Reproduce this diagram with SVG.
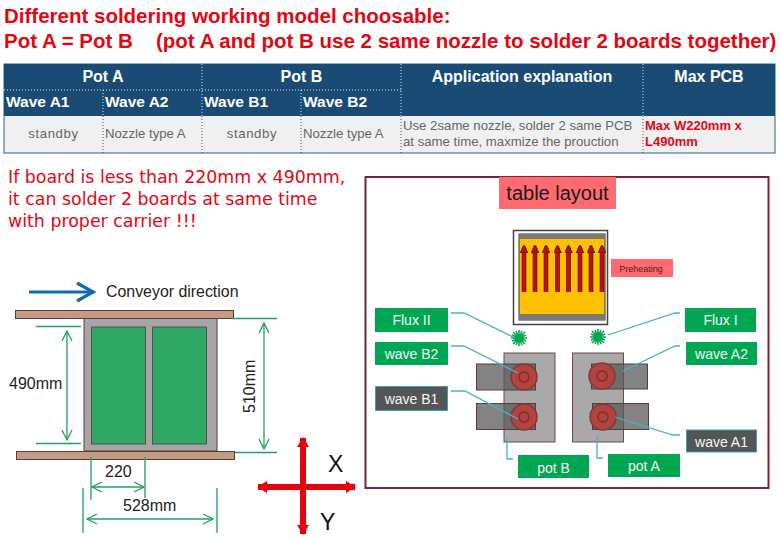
<svg xmlns="http://www.w3.org/2000/svg" width="780" height="540" viewBox="0 0 780 540">
<defs>
<marker id="g" viewBox="0 0 12 12" refX="11" refY="6" markerWidth="12" markerHeight="12" markerUnits="userSpaceOnUse" orient="auto-start-reverse"><path d="M1 1L11 6L1 11" fill="none" stroke="#1fa062" stroke-width="1.3"/></marker>
<marker id="b" viewBox="0 0 22 22" refX="20" refY="11" markerWidth="22" markerHeight="22" markerUnits="userSpaceOnUse" orient="auto"><path d="M3 2L19 11L3 20" fill="none" stroke="#0f6cb0" stroke-width="3.200"/></marker>
<marker id="r" viewBox="0 0 10 12" refX="9" refY="6" markerWidth="10" markerHeight="12" markerUnits="userSpaceOnUse" orient="auto-start-reverse"><path d="M0 0L10 6L0 12Z" fill="#e8000b"/></marker>
<marker id="u" viewBox="0 0 8 8" refX="7" refY="4" markerWidth="8" markerHeight="8" markerUnits="userSpaceOnUse" orient="auto"><path d="M0 0L8 4L0 8Z" fill="#cc0a0a" stroke="#222" stroke-width=".7"/></marker>
</defs>
<style>
text{font-family:"Liberation Sans",Arial,sans-serif}
.ti{font-size:20.5px;font-weight:700;fill:#e30613}
.th{font-size:16px;font-weight:700;fill:#fff}
.tw{font-size:15.5px;font-weight:700;fill:#fff}
.tc{font-size:13.2px;fill:#666}
.ts{font-size:13.2px;fill:#666;letter-spacing:.6px}
.tr{font-size:13px;font-weight:700;fill:#e30613}
.dv{stroke:#dfe8ee;stroke-width:1;stroke-dasharray:1 2;fill:none}
.dk{stroke:#44505a;stroke-width:1;stroke-dasharray:1 2;fill:none}
.note{font-family:"DejaVu Sans",sans-serif;font-size:17.4px;fill:#e30613}
.dim{font-size:16px;fill:#222}
.gl{stroke:#1fa062;stroke-width:1.3;fill:none}
.ga{stroke:#1fa062;stroke-width:1.3;fill:none;marker-start:url(#g);marker-end:url(#g)}
.rail{fill:#c39a85;stroke:#5e3a30;stroke-width:1}
.lab{font-size:14px;fill:#f2f8f5;text-anchor:middle}
.gb{fill:#00a651}
.db{fill:#555;stroke:#3aa0bb;stroke-width:1}
.ld{stroke:#45b3cd;stroke-width:1.3;fill:none}
.pot{fill:#a9a9a9;stroke:#6b4a4a;stroke-width:1}
.noz{fill:#5a5a5a;fill-opacity:.75;stroke:#5b3a3a;stroke-width:1}
.c1{fill:#b5423f;stroke:#7f3a3a;stroke-width:1.5}
.c2{fill:none;stroke:#7d3535;stroke-width:1.800}
.heat{stroke:#cc0a0a;stroke-width:3.4;marker-end:url(#u)}
.heatb{stroke:#222;stroke-width:4.6}
</style>
<rect width="780" height="540" fill="#fff"/>
<g id="title">
<text class="ti" x="4" y="23">Different soldering working model choosable:</text>
<text class="ti" x="4" y="48">Pot A = Pot B</text>
<text class="ti" x="156" y="48">(pot A and pot B use 2 same nozzle to solder 2 boards together)</text>
</g>
<g id="table">
<rect x="4" y="64" width="771" height="89" fill="#f0f0f0" stroke="#2f5f80" stroke-width="1"/>
<rect x="4" y="64" width="771" height="52" fill="#1a4b75"/>
<path class="dv" d="M4 90H401M202 64V116M401 64V116M643 64V116M103 90V116M301 90V116"/>
<path class="dk" d="M103 116V153M202 116V153M301 116V153M401 116V153M643 116V153"/>
<text class="th" x="103" y="82" text-anchor="middle">Pot A</text>
<text class="th" x="301.500" y="82" text-anchor="middle">Pot B</text>
<text class="th" x="522" y="82" text-anchor="middle">Application explanation</text>
<text class="th" x="709" y="82" text-anchor="middle">Max PCB</text>
<text class="tw" x="6" y="107">Wave A1</text>
<text class="tw" x="105" y="107">Wave A2</text>
<text class="tw" x="204" y="107">Wave B1</text>
<text class="tw" x="303" y="107">Wave B2</text>
<text class="ts" x="53.500" y="138" text-anchor="middle">standby</text>
<text class="tc" x="105" y="138">Nozzle type A</text>
<text class="ts" x="252" y="138" text-anchor="middle">standby</text>
<text class="tc" x="303" y="138">Nozzle type A</text>
<text class="tc" x="403" y="130">Use 2same nozzle, solder 2 same PCB</text>
<text class="tc" x="403" y="146">at same time, maxmize the prouction</text>
<text class="tr" x="645" y="130">Max W220mm x</text>
<text class="tr" x="645" y="146">L490mm</text>
</g>
<g id="note">
<text class="note" x="8" y="183">If board is less than 220mm x 490mm,</text>
<text class="note" x="8" y="205">it can solder 2 boards at same time</text>
<text class="note" x="8" y="227">with proper carrier !!!</text>
</g>
<g id="carrier">
<rect x="84" y="318" width="133" height="133" fill="#a6a6a6" stroke="#5e3a30" stroke-width="1"/>
<rect x="91.500" y="327" width="54" height="117" fill="#2fa866" stroke="#5e4a4a" stroke-width="1"/>
<rect x="152.500" y="327" width="54" height="117" fill="#2fa866" stroke="#5e4a4a" stroke-width="1"/>
<rect class="rail" x="15.500" y="310.500" width="218" height="8"/>
<rect class="rail" x="16.500" y="451.500" width="218" height="8"/>
</g>
<g id="dimensions">
<path class="gl" d="M36 326.500H81M36 443.500H81M232 318.500H277M235 452.500H277M91 457V500M145 457V498M83 488V533M217 488V533"/>
<line class="ga" x1="67" y1="331" x2="67" y2="440"/>
<line class="ga" x1="264" y1="323" x2="264" y2="449"/>
<line class="ga" x1="92" y1="487" x2="144" y2="487"/>
<line class="ga" x1="87" y1="519" x2="213" y2="519"/>
<text class="dim" x="9" y="389">490mm</text>
<text class="dim" x="0" y="0" transform="translate(255 413) rotate(-90)">510mm</text>
<text class="dim" x="105" y="477">220</text>
<text class="dim" x="123" y="511">528mm</text>
</g>
<g id="conveyor">
<line x1="29" y1="292" x2="94" y2="292" stroke="#0f6cb0" stroke-width="3" marker-end="url(#b)"/>
<text x="106" y="297" font-size="15.900" fill="#222">Conveyor direction</text>
</g>
<g id="axes">
<line x1="303" y1="438" x2="303" y2="534" stroke="#e8000b" stroke-width="6" marker-start="url(#r)" marker-end="url(#r)"/>
<line x1="258" y1="487" x2="355" y2="487" stroke="#e8000b" stroke-width="6" marker-start="url(#r)" marker-end="url(#r)"/>
<text x="328" y="472" font-size="23" fill="#111">X</text>
<text x="320" y="530" font-size="23" fill="#111">Y</text>
</g>
<g id="layout-frame">
<rect x="365.500" y="177" width="403" height="311" fill="#fff" stroke="#6b2a33" stroke-width="2"/>
</g>
<g id="table-layout">
<rect x="499" y="177" width="117" height="32" fill="#ff6b70"/>
<text x="557.500" y="200" font-size="20" fill="#1a1a1a" text-anchor="middle">table layout</text>
</g>
<g id="preheater">
<rect x="513.500" y="230.500" width="94" height="94" fill="#fff" stroke="#444" stroke-width="1.500"/>
<rect x="519" y="234" width="86" height="86" fill="#ffc000" stroke="#333" stroke-width="1"/>
<rect x="519" y="234" width="86" height="5" fill="#7a7a7a"/>
<rect x="519" y="314" width="86" height="6" fill="#7a7a7a"/>
<path class="heatb" d="M524 248V292M535 248V292M546 248V292M557.500 248V292M568.500 248V292M580 248V292M591 248V292M602 248V292"/>
<line class="heat" x1="524" y1="292" x2="524" y2="246"/>
<line class="heat" x1="535" y1="292" x2="535" y2="246"/>
<line class="heat" x1="546" y1="292" x2="546" y2="246"/>
<line class="heat" x1="557.500" y1="292" x2="557.500" y2="246"/>
<line class="heat" x1="568.500" y1="292" x2="568.500" y2="246"/>
<line class="heat" x1="580" y1="292" x2="580" y2="246"/>
<line class="heat" x1="591" y1="292" x2="591" y2="246"/>
<line class="heat" x1="602" y1="292" x2="602" y2="246"/>
</g>
<g id="preheating">
<rect x="611" y="259" width="62" height="18" fill="#ff6b70"/>
<text x="641" y="272" font-size="9" fill="#5a1a1a" text-anchor="middle">Preheating</text>
</g>
<g id="pot-b">
<rect class="pot" x="504" y="353" width="51" height="89"/>
<rect class="noz" x="476.500" y="364" width="59" height="26"/>
<rect class="noz" x="476.500" y="403.500" width="59" height="26"/>
<circle class="c1" cx="524" cy="377" r="13"/><circle class="c2" cx="524" cy="377" r="5"/>
<circle class="c1" cx="524" cy="417" r="13"/><circle class="c2" cx="524" cy="417" r="5"/>
</g>
<g id="pot-a">
<rect class="pot" x="572.500" y="353" width="51" height="89"/>
<rect class="noz" x="591.500" y="364" width="56" height="25"/>
<rect class="noz" x="592.500" y="403.500" width="56" height="26"/>
<circle class="c1" cx="602" cy="376" r="13"/><circle class="c2" cx="602" cy="376" r="5"/>
<circle class="c1" cx="603" cy="417" r="13"/><circle class="c2" cx="603" cy="417" r="5"/>
</g>
<g id="flux-nozzles" stroke="#00a651" stroke-width="1.600" fill="#00a651">
<path d="M519 330V346M511 338H527M513 332L525 344M525 332L513 344M516 331L522 345M522 331L516 345M512 335L526 341M526 335L512 341"/>
<circle cx="519" cy="338" r="3.500"/>
<path d="M598 329V345M590 337H606M592 331L604 343M604 331L592 343M595 330L601 344M601 330L595 344M591 334L605 340M605 334L591 340"/>
<circle cx="598" cy="337" r="3.500"/>
</g>
<g id="connectors">
<path class="ld" d="M451 313H464L513 337"/>
<path class="ld" d="M680 313H675L608 335"/>
<path class="ld" d="M451 346H464L518 373"/>
<path class="ld" d="M451 391H465L518 419"/>
<path class="ld" d="M680 346H675L623 371"/>
<path class="ld" d="M680 435H673L615 417"/>
<path class="ld" d="M507 438V459H513"/>
<path class="ld" d="M597 437V458H603"/>
</g>
<g id="flux-ii"><rect class="gb" x="375" y="308" width="73" height="24"/><text class="lab" x="411.500" y="325">Flux II</text></g>
<g id="flux-i"><rect class="gb" x="685" y="308" width="71" height="24"/><text class="lab" x="720.500" y="325">Flux I</text></g>
<g id="wave-b2"><rect class="gb" x="375" y="342" width="73" height="23"/><text class="lab" x="411.500" y="359">wave B2</text></g>
<g id="wave-b1"><rect class="db" x="375.500" y="386.500" width="72" height="24"/><text class="lab" x="411.500" y="404">wave B1</text></g>
<g id="wave-a2"><rect class="gb" x="686" y="342" width="71" height="23"/><text class="lab" x="721.500" y="359">wave A2</text></g>
<g id="wave-a1"><rect class="db" x="686.500" y="430" width="70" height="22"/><text class="lab" x="721.500" y="447">wave A1</text></g>
<g id="pot-b-label"><rect class="gb" x="518" y="455" width="71" height="23"/><text class="lab" x="553.500" y="473">pot B</text></g>
<g id="pot-a-label"><rect class="gb" x="608" y="454" width="72" height="23"/><text class="lab" x="644" y="471">pot A</text></g>
</svg>
